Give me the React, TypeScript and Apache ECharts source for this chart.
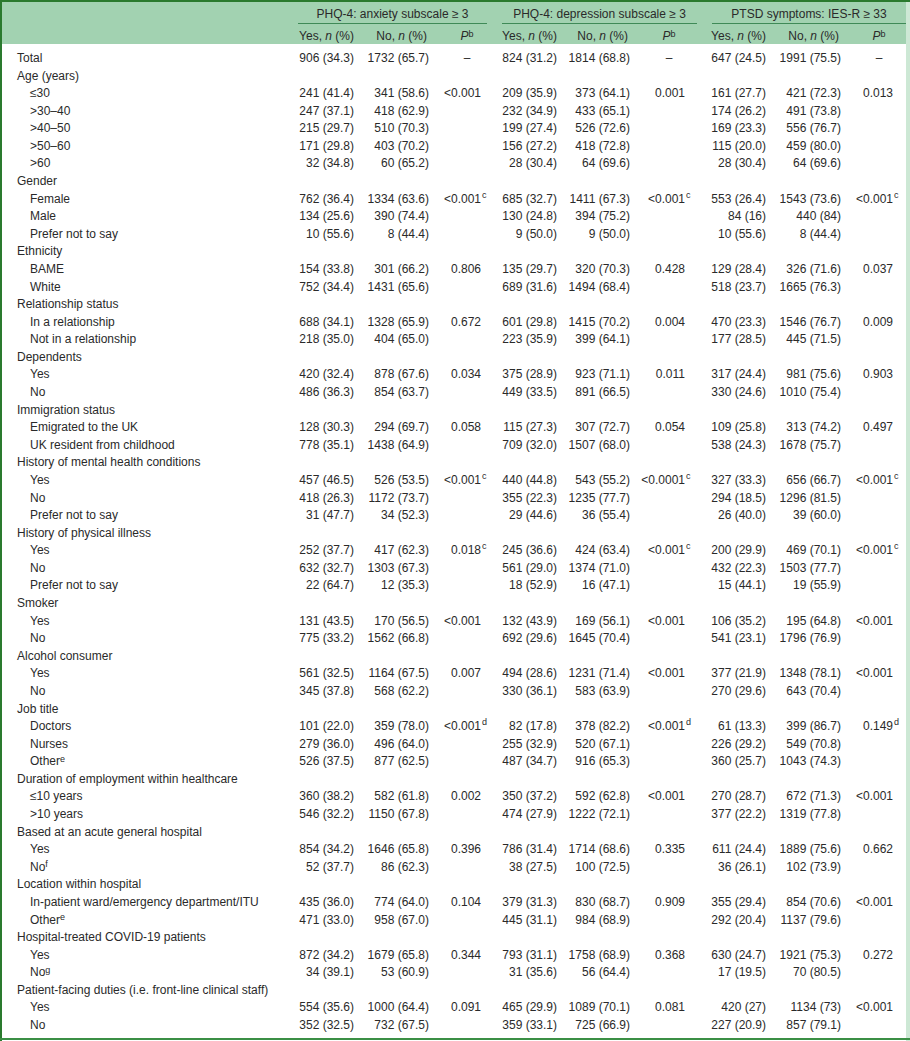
import React, { useEffect, useRef } from "react";
import * as echarts from "echarts";

// ---------- DATA ----------
const rowLabels = [
  "Total",
  "Age (years)", "≤30", ">30–40", ">40–50", ">50–60", ">60",
  "Gender", "Female", "Male", "Prefer not to say",
  "Ethnicity", "BAME", "White",
  "Relationship status", "In a relationship", "Not in a relationship",
  "Dependents", "Yes", "No",
  "Immigration status", "Emigrated to the UK", "UK resident from childhood",
  "History of mental health conditions", "Yes", "No", "Prefer not to say",
  "History of physical illness", "Yes", "No", "Prefer not to say",
  "Smoker", "Yes", "No",
  "Alcohol consumer", "Yes", "No",
  "Job title", "Doctors", "Nurses", "Other^e",
  "Duration of employment within healthcare", "≤10 years", ">10 years",
  "Based at an acute general hospital", "Yes", "No^f",
  "Location within hospital", "In-patient ward/emergency department/ITU", "Other^e",
  "Hospital-treated COVID-19 patients", "Yes", "No^g",
  "Patient-facing duties (i.e. front-line clinical staff)", "Yes", "No",
];

const groupTitles = [
  "PHQ-4: anxiety subscale ≥ 3",
  "PHQ-4: depression subscale ≥ 3",
  "PTSD symptoms: IES-R ≥ 33",
];

const anxYes = [
  "906 (34.3)",
  "", "241 (41.4)", "247 (37.1)", "215 (29.7)", "171 (29.8)", "32 (34.8)",
  "", "762 (36.4)", "134 (25.6)", "10 (55.6)",
  "", "154 (33.8)", "752 (34.4)",
  "", "688 (34.1)", "218 (35.0)",
  "", "420 (32.4)", "486 (36.3)",
  "", "128 (30.3)", "778 (35.1)",
  "", "457 (46.5)", "418 (26.3)", "31 (47.7)",
  "", "252 (37.7)", "632 (32.7)", "22 (64.7)",
  "", "131 (43.5)", "775 (33.2)",
  "", "561 (32.5)", "345 (37.8)",
  "", "101 (22.0)", "279 (36.0)", "526 (37.5)",
  "", "360 (38.2)", "546 (32.2)",
  "", "854 (34.2)", "52 (37.7)",
  "", "435 (36.0)", "471 (33.0)",
  "", "872 (34.2)", "34 (39.1)",
  "", "554 (35.6)", "352 (32.5)",
];

const anxNo = [
  "1732 (65.7)",
  "", "341 (58.6)", "418 (62.9)", "510 (70.3)", "403 (70.2)", "60 (65.2)",
  "", "1334 (63.6)", "390 (74.4)", "8 (44.4)",
  "", "301 (66.2)", "1431 (65.6)",
  "", "1328 (65.9)", "404 (65.0)",
  "", "878 (67.6)", "854 (63.7)",
  "", "294 (69.7)", "1438 (64.9)",
  "", "526 (53.5)", "1172 (73.7)", "34 (52.3)",
  "", "417 (62.3)", "1303 (67.3)", "12 (35.3)",
  "", "170 (56.5)", "1562 (66.8)",
  "", "1164 (67.5)", "568 (62.2)",
  "", "359 (78.0)", "496 (64.0)", "877 (62.5)",
  "", "582 (61.8)", "1150 (67.8)",
  "", "1646 (65.8)", "86 (62.3)",
  "", "774 (64.0)", "958 (67.0)",
  "", "1679 (65.8)", "53 (60.9)",
  "", "1000 (64.4)", "732 (67.5)",
];

const anxP = [
  "–",
  "", "<0.001", "", "", "", "",
  "", "<0.001^c", "", "",
  "", "0.806", "",
  "", "0.672", "",
  "", "0.034", "",
  "", "0.058", "",
  "", "<0.001^c", "", "",
  "", "0.018^c", "", "",
  "", "<0.001", "",
  "", "0.007", "",
  "", "<0.001^d", "", "",
  "", "0.002", "",
  "", "0.396", "",
  "", "0.104", "",
  "", "0.344", "",
  "", "0.091", "",
];

const depYes = [
  "824 (31.2)",
  "", "209 (35.9)", "232 (34.9)", "199 (27.4)", "156 (27.2)", "28 (30.4)",
  "", "685 (32.7)", "130 (24.8)", "9 (50.0)",
  "", "135 (29.7)", "689 (31.6)",
  "", "601 (29.8)", "223 (35.9)",
  "", "375 (28.9)", "449 (33.5)",
  "", "115 (27.3)", "709 (32.0)",
  "", "440 (44.8)", "355 (22.3)", "29 (44.6)",
  "", "245 (36.6)", "561 (29.0)", "18 (52.9)",
  "", "132 (43.9)", "692 (29.6)",
  "", "494 (28.6)", "330 (36.1)",
  "", "82 (17.8)", "255 (32.9)", "487 (34.7)",
  "", "350 (37.2)", "474 (27.9)",
  "", "786 (31.4)", "38 (27.5)",
  "", "379 (31.3)", "445 (31.1)",
  "", "793 (31.1)", "31 (35.6)",
  "", "465 (29.9)", "359 (33.1)",
];

const depNo = [
  "1814 (68.8)",
  "", "373 (64.1)", "433 (65.1)", "526 (72.6)", "418 (72.8)", "64 (69.6)",
  "", "1411 (67.3)", "394 (75.2)", "9 (50.0)",
  "", "320 (70.3)", "1494 (68.4)",
  "", "1415 (70.2)", "399 (64.1)",
  "", "923 (71.1)", "891 (66.5)",
  "", "307 (72.7)", "1507 (68.0)",
  "", "543 (55.2)", "1235 (77.7)", "36 (55.4)",
  "", "424 (63.4)", "1374 (71.0)", "16 (47.1)",
  "", "169 (56.1)", "1645 (70.4)",
  "", "1231 (71.4)", "583 (63.9)",
  "", "378 (82.2)", "520 (67.1)", "916 (65.3)",
  "", "592 (62.8)", "1222 (72.1)",
  "", "1714 (68.6)", "100 (72.5)",
  "", "830 (68.7)", "984 (68.9)",
  "", "1758 (68.9)", "56 (64.4)",
  "", "1089 (70.1)", "725 (66.9)",
];

const depP = [
  "–",
  "", "0.001", "", "", "", "",
  "", "<0.001^c", "", "",
  "", "0.428", "",
  "", "0.004", "",
  "", "0.011", "",
  "", "0.054", "",
  "", "<0.0001^c", "", "",
  "", "<0.001^c", "", "",
  "", "<0.001", "",
  "", "<0.001", "",
  "", "<0.001^d", "", "",
  "", "<0.001", "",
  "", "0.335", "",
  "", "0.909", "",
  "", "0.368", "",
  "", "0.081", "",
];

const ptsdYes = [
  "647 (24.5)",
  "", "161 (27.7)", "174 (26.2)", "169 (23.3)", "115 (20.0)", "28 (30.4)",
  "", "553 (26.4)", "84 (16)", "10 (55.6)",
  "", "129 (28.4)", "518 (23.7)",
  "", "470 (23.3)", "177 (28.5)",
  "", "317 (24.4)", "330 (24.6)",
  "", "109 (25.8)", "538 (24.3)",
  "", "327 (33.3)", "294 (18.5)", "26 (40.0)",
  "", "200 (29.9)", "432 (22.3)", "15 (44.1)",
  "", "106 (35.2)", "541 (23.1)",
  "", "377 (21.9)", "270 (29.6)",
  "", "61 (13.3)", "226 (29.2)", "360 (25.7)",
  "", "270 (28.7)", "377 (22.2)",
  "", "611 (24.4)", "36 (26.1)",
  "", "355 (29.4)", "292 (20.4)",
  "", "630 (24.7)", "17 (19.5)",
  "", "420 (27)", "227 (20.9)",
];

const ptsdNo = [
  "1991 (75.5)",
  "", "421 (72.3)", "491 (73.8)", "556 (76.7)", "459 (80.0)", "64 (69.6)",
  "", "1543 (73.6)", "440 (84)", "8 (44.4)",
  "", "326 (71.6)", "1665 (76.3)",
  "", "1546 (76.7)", "445 (71.5)",
  "", "981 (75.6)", "1010 (75.4)",
  "", "313 (74.2)", "1678 (75.7)",
  "", "656 (66.7)", "1296 (81.5)", "39 (60.0)",
  "", "469 (70.1)", "1503 (77.7)", "19 (55.9)",
  "", "195 (64.8)", "1796 (76.9)",
  "", "1348 (78.1)", "643 (70.4)",
  "", "399 (86.7)", "549 (70.8)", "1043 (74.3)",
  "", "672 (71.3)", "1319 (77.8)",
  "", "1889 (75.6)", "102 (73.9)",
  "", "854 (70.6)", "1137 (79.6)",
  "", "1921 (75.3)", "70 (80.5)",
  "", "1134 (73)", "857 (79.1)",
];

const ptsdP = [
  "–",
  "", "0.013", "", "", "", "",
  "", "<0.001^c", "", "",
  "", "0.037", "",
  "", "0.009", "",
  "", "0.903", "",
  "", "0.497", "",
  "", "<0.001^c", "", "",
  "", "<0.001^c", "", "",
  "", "<0.001", "",
  "", "<0.001", "",
  "", "0.149^d", "", "",
  "", "<0.001", "",
  "", "0.662", "",
  "", "<0.001", "",
  "", "0.272", "",
  "", "<0.001", "",
];

// ---------- LAYOUT / STYLE ----------
const W = 910;
const H = 1041;
const FONT = "'Liberation Sans', Arial, sans-serif";
const FS = 12;
const SUP = 9;
const TXT = "#2a2a2a";
const BAND = "#a2d2b1";
const RULE = "#3f8a57";
const BORDER = "#2a7a2e";

const LABEL_X = 17;
const INDENT_X = 30;
const GROUPS = [
  { yes: 354, no: 429, p: 481, pc: 467, l: 298, r: 487 },
  { yes: 557, no: 630, p: 685, pc: 669, l: 502, r: 697 },
  { yes: 766, no: 841, p: 893, pc: 879, l: 712, r: 906 },
];
const valueCols = [
  [anxYes, anxNo, anxP],
  [depYes, depNo, depP],
  [ptsdYes, ptsdNo, ptsdP],
];

const ROW_TOP = 49.2;
const ROW_BOTTOM = 7.2;

function splitSup(s: string): [string, string] {
  const k = s.indexOf("^");
  return k < 0 ? [s, ""] : [s.slice(0, k), s.slice(k + 1)];
}

const richBase = {
  m: { fontSize: FS, fontFamily: FONT, fill: TXT, lineHeight: 14 },
  i: { fontSize: FS, fontFamily: FONT, fill: TXT, lineHeight: 14, fontStyle: "italic" },
  s: { fontSize: SUP, fontFamily: FONT, fill: TXT, lineHeight: 9, verticalAlign: "top" },
};

function txt(x: number, y: number, text: string, align: string, extra: any = {}) {
  return {
    type: "text",
    x,
    y,
    silent: true,
    style: {
      text,
      fill: TXT,
      fontSize: FS,
      fontFamily: FONT,
      align,
      verticalAlign: "middle",
      ...extra,
    },
  };
}

function renderRow(params: any, api: any) {
  const i = params.dataIndex;
  const y = api.coord([0, i])[1];
  const px = (v: number) => api.coord([v, i])[0];
  const children: any[] = [];
  const level = i > 0 && anxYes[i] !== "" ? 1 : 0;
  const [lab, labSup] = splitSup(rowLabels[i]);
  const lx = px(level ? INDENT_X : LABEL_X);
  if (labSup) {
    children.push(txt(lx, y, `{m|${lab}}{s|${labSup}}`, "left", { rich: richBase }));
  } else {
    children.push(txt(lx, y, lab, "left"));
  }
  valueCols.forEach((cols, g) => {
    const G = GROUPS[g];
    const [yes, no, p] = cols;
    if (yes[i]) children.push(txt(px(G.yes), y, yes[i], "right"));
    if (no[i]) children.push(txt(px(G.no), y, no[i], "right"));
    if (p[i]) {
      if (p[i] === "–") {
        children.push(txt(px(G.pc), y, "–", "center"));
      } else {
        const [pv, ps] = splitSup(p[i]);
        children.push(txt(px(G.p), y, pv, "right"));
        if (ps) children.push(txt(px(G.p) + 1, y - 4, ps, "left", { fontSize: SUP }));
      }
    }
  });
  return { type: "group", children };
}

function headerGraphics() {
  const els: any[] = [];
  els.push({ type: "rect", shape: { x: 0, y: 0, width: W, height: 44 }, style: { fill: BAND }, silent: true });
  els.push({ type: "rect", shape: { x: 906, y: 0, width: 4, height: H }, style: { fill: "#cde8d5" }, silent: true });
  els.push({ type: "rect", shape: { x: 0, y: 0, width: W, height: 2 }, style: { fill: BORDER }, silent: true });
  els.push({ type: "rect", shape: { x: 0, y: 0, width: 2, height: H }, style: { fill: BORDER }, silent: true });
  els.push({ type: "rect", shape: { x: 0, y: H - 3, width: W, height: 2 }, style: { fill: "#3b8f45" }, silent: true });
  GROUPS.forEach((G, g) => {
    els.push({
      type: "line",
      shape: { x1: G.l, y1: 23.5, x2: G.r, y2: 23.5 },
      style: { stroke: RULE, lineWidth: 1 },
      silent: true,
    });
    els.push(txt((G.l + G.r) / 2, 14, groupTitles[g], "center"));
    els.push(txt(G.yes, 36, "{m|Yes, }{i|n}{m| (%)}", "right", { rich: richBase }));
    els.push(txt(G.no - 2, 36, "{m|No, }{i|n}{m| (%)}", "right", { rich: richBase }));
    els.push(txt(G.pc, 36, "{i|P}{s|b}", "center", { rich: richBase }));
  });
  return els;
}

export default function App() {
  const ref = useRef<HTMLDivElement>(null);
  useEffect(() => {
    document.body.style.margin = "0";
    if (!ref.current) return;
    const chart = echarts.init(ref.current, null, { renderer: "svg" });
    chart.setOption({
      animation: false,
      backgroundColor: "#ffffff",
      grid: { left: 0, right: 0, top: ROW_TOP, bottom: ROW_BOTTOM },
      xAxis: { type: "value", min: 0, max: W, show: false },
      yAxis: { type: "category", data: rowLabels, inverse: true, show: false },
      graphic: { elements: headerGraphics() },
      series: [
        {
          type: "custom",
          clip: false,
          silent: true,
          renderItem: renderRow,
          encode: { x: 0, y: 1 },
          data: rowLabels.map((_, i) => [0, i]),
        },
      ],
    });
    return () => chart.dispose();
  }, []);
  return <div ref={ref} style={{ width: W, height: H }} />;
}
